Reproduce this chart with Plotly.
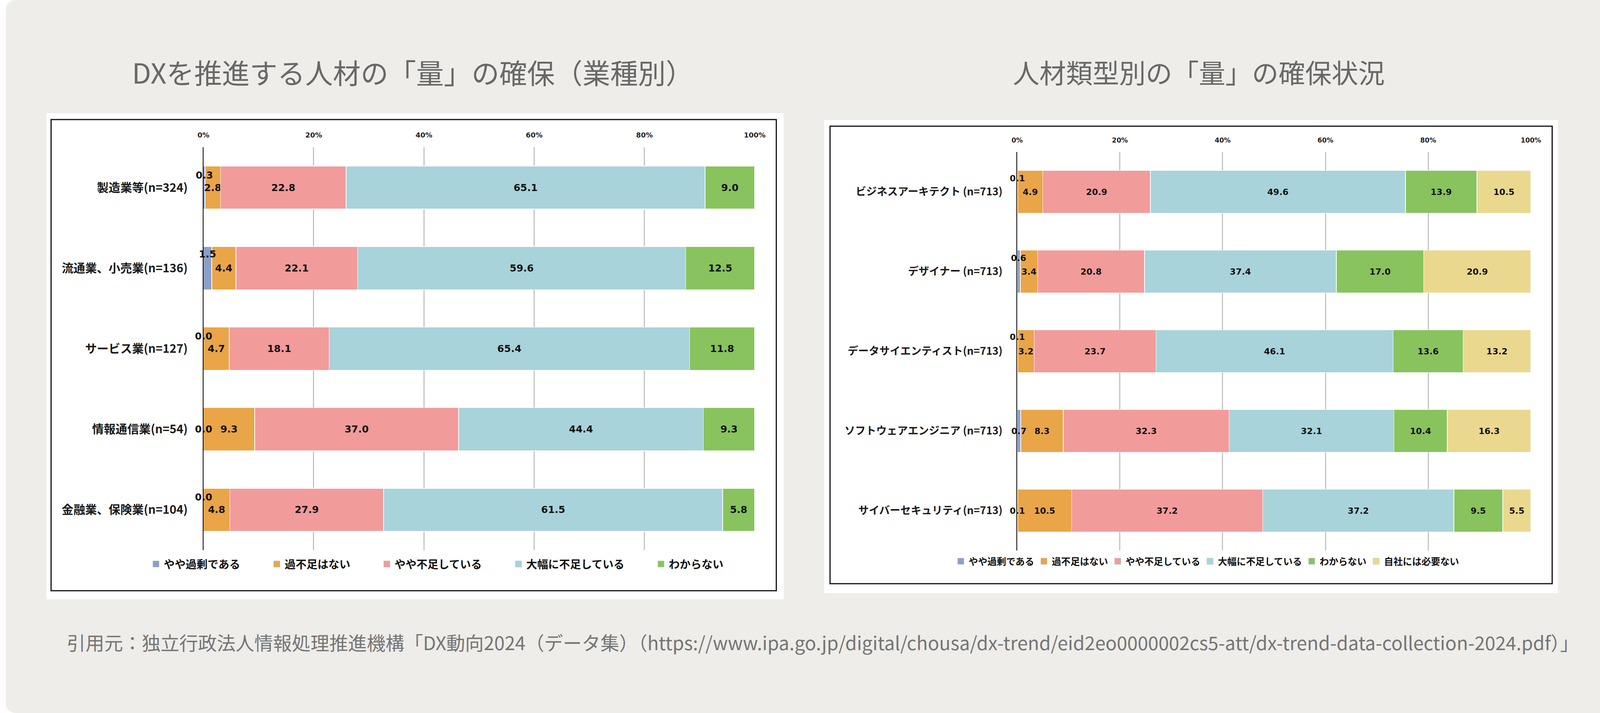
import plotly.graph_objects as go

# DXを推進する人材の「量」の確保（業種別）
ind_labels = ["製造業等(n=324)", "流通業、小売業(n=136)", "サービス業(n=127)",
              "情報通信業(n=54)", "金融業、保険業(n=104)"]
ind_over = [0.3, 1.5, 0.0, 0.0, 0.0]
ind_ok = [2.8, 4.4, 4.7, 9.3, 4.8]
ind_slight = [22.8, 22.1, 18.1, 37.0, 27.9]
ind_large = [65.1, 59.6, 65.4, 44.4, 61.5]
ind_unknown = [9.0, 12.5, 11.8, 9.3, 5.8]

# 人材類型別の「量」の確保状況
role_labels = ["ビジネスアーキテクト (n=713)", "デザイナー (n=713)", "データサイエンティスト(n=713)",
               "ソフトウェアエンジニア (n=713)", "サイバーセキュリティ(n=713)"]
role_over = [0.1, 0.6, 0.1, 0.7, 0.1]
role_ok = [4.9, 3.4, 3.2, 8.3, 10.5]
role_slight = [20.9, 20.8, 23.7, 32.3, 37.2]
role_large = [49.6, 37.4, 46.1, 32.1, 37.2]
role_unknown = [13.9, 17.0, 13.6, 10.4, 9.5]
role_unneeded = [10.5, 20.9, 13.2, 16.3, 5.5]

series_names = ["やや過剰である", "過不足はない", "やや不足している", "大幅に不足している",
                "わからない", "自社には必要ない"]
colors = ["#8aa0c8", "#e9a548", "#f29b9b", "#a8d3da", "#88c35e", "#ead88e"]

tick_vals = [0, 20, 40, 60, 80, 100]
tick_text = ["0%", "20%", "40%", "60%", "80%", "100%"]

ind_values = [ind_over, ind_ok, ind_slight, ind_large, ind_unknown]
role_values = [role_over, role_ok, role_slight, role_large, role_unknown, role_unneeded]

W, H = 4152, 1825
JP = "Noto Sans CJK JP"
NUM = "DejaVu Sans"


def fx(x):
    return x / W


def fy(y):
    return 1 - y / H


fig = go.Figure()


def add_chart(values, labels, xa, ya, legend, size, pad):
    for i, vals in enumerate(values):
        fig.add_trace(go.Bar(
            y=labels, x=vals, orientation="h", showlegend=False,
            marker=dict(color=colors[i], line=dict(color="white", width=1.5)),
            text=[f"{v:.1f}" for v in vals] if i > 0 else None,
            texttemplate="%{text}" if i > 0 else None,
            textposition="inside" if i > 0 else "none",
            insidetextanchor="middle", textangle=0, constraintext="none",
            textfont=dict(family=NUM, size=size, color="#111111", weight="bold"),
            xaxis=xa, yaxis=ya, hoverinfo="skip",
        ))
        # 凡例用（四角を大きめに）
        fig.add_trace(go.Scatter(
            x=[None], y=[None], mode="markers", name=series_names[i] + pad,
            marker=dict(symbol="square", size=16, color=colors[i],
                        line=dict(color="#c8c8c8", width=1)),
            xaxis=xa, yaxis=ya, legend=legend, hoverinfo="skip",
        ))


add_chart(ind_values, ind_labels, "x", "y", "legend", 25, "\u3000\u3000\u00a0\u00a0")
add_chart(role_values, role_labels, "x2", "y2", "legend2", 22, "")

# ごく小さい「やや過剰である」のラベル
ind_shift = [32, 36, 32, 0, 32]
role_shift = [34, 34, 36, 0, 0]
annotations = []
for v, lab, s in zip(ind_over, ind_labels, ind_shift):
    annotations.append(dict(x=v / 2, y=lab, xref="x", yref="y", text=f"{v:.1f}", showarrow=False,
                            yshift=s, font=dict(family=NUM, size=25, color="#111111", weight="bold")))
for v, lab, s in zip(role_over, role_labels, role_shift):
    annotations.append(dict(x=v / 2, y=lab, xref="x2", yref="y2", text=f"{v:.1f}", showarrow=False,
                            yshift=s, font=dict(family=NUM, size=22, color="#111111", weight="bold")))

annotations.append(dict(x=fx(1052), y=fy(183), xref="paper", yref="paper", showarrow=False,
                        xanchor="center", yanchor="middle",
                        text="DXを推進する人材の「量」の確保（業種別）",
                        font=dict(family=JP, size=71, color="#686868")))
annotations.append(dict(x=fx(3086), y=fy(183), xref="paper", yref="paper", showarrow=False,
                        xanchor="center", yanchor="middle",
                        text="人材類型別の「量」の確保状況",
                        font=dict(family=JP, size=68, color="#686868")))
annotations.append(dict(x=fx(156), y=fy(1643), xref="paper", yref="paper", showarrow=False,
                        xanchor="left", yanchor="middle",
                        text="引用元：独立行政法人情報処理推進機構「DX動向2024（データ集）（https://www.ipa.go.jp/digital/chousa/dx-trend/eid2eo0000002cs5-att/dx-trend-data-collection-2024.pdf）」",
                        font=dict(family=JP, size=48, color="#757575")))

# 背景のカード、白いパネル、黒い枠
r = 28
card = (f"M {fx(r)},1 L {fx(W - r)},1 Q 1,1 1,{fy(r)} L 1,{fy(H - r)} Q 1,0 {fx(W - r)},0 "
        f"L {fx(r)},0 Q 0,0 0,{fy(H - r)} L 0,{fy(r)} Q 0,1 {fx(r)},1 Z")
shapes = [dict(type="path", path=card, xref="paper", yref="paper", layer="below",
               fillcolor="#eeede9", line=dict(width=0))]
for x0, y0, x1, y1 in [(105, 290, 2012, 1534), (2117, 307, 4015, 1518)]:
    shapes.append(dict(type="rect", xref="paper", yref="paper", layer="below",
                       x0=fx(x0), x1=fx(x1), y0=fy(y1), y1=fy(y0),
                       fillcolor="white", line=dict(width=0)))
for x0, y0, x1, y1 in [(117, 306, 1993, 1512), (2132, 323, 4000, 1494)]:
    shapes.append(dict(type="rect", xref="paper", yref="paper", layer="below",
                       x0=fx(x0), x1=fx(x1), y0=fy(y1), y1=fy(y0),
                       fillcolor="rgba(0,0,0,0)", line=dict(color="#111111", width=3)))


def xaxis_style(domain, anchor, size):
    return dict(domain=domain, anchor=anchor, range=[0, 100], side="top",
                tickvals=tick_vals, ticktext=tick_text,
                showgrid=True, gridcolor="#c4c4c4", gridwidth=2.5, zeroline=False,
                showline=False, ticks="", ticklabelstandoff=20, fixedrange=True,
                tickfont=dict(family=NUM, size=size, color="#222222", weight="bold"))


def yaxis_style(domain, anchor, size, standoff):
    return dict(domain=domain, anchor=anchor, autorange="reversed", showgrid=False,
                showline=True, linecolor="black", linewidth=2, ticks="", zeroline=False,
                ticklabelstandoff=standoff, fixedrange=True,
                tickfont=dict(family=JP, size=size, color="#1a1a1a", weight="bold"))


fig.update_layout(
    width=W, height=H,
    margin=dict(l=0, r=0, t=0, b=0),
    paper_bgcolor="white",
    plot_bgcolor="rgba(0,0,0,0)",
    barmode="stack", barnorm="percent", bargap=0.466,
    xaxis=xaxis_style([fx(511), fx(1937)], "y", 18),
    yaxis=yaxis_style([fy(1408), fy(377)], "x", 30, 32),
    xaxis2=xaxis_style([fx(2616), fx(3945)], "y2", 17),
    yaxis2=yaxis_style([fy(1409), fy(389)], "x2", 27, 30),
    legend=dict(orientation="h", x=fx(368), xanchor="left", y=fy(1444), yanchor="middle",
                traceorder="normal", bgcolor="rgba(0,0,0,0)",
                font=dict(family=JP, size=28, color="#111111", weight="bold")),
    legend2=dict(orientation="h", x=fx(2450), xanchor="left", y=fy(1437), yanchor="middle",
                 traceorder="normal", bgcolor="rgba(0,0,0,0)",
                 font=dict(family=JP, size=24, color="#111111", weight="bold")),
    annotations=annotations,
    shapes=shapes,
)

fig.write_html("out.html", config={"displayModeBar": False},
               post_script="document.body.style.margin='0';")
